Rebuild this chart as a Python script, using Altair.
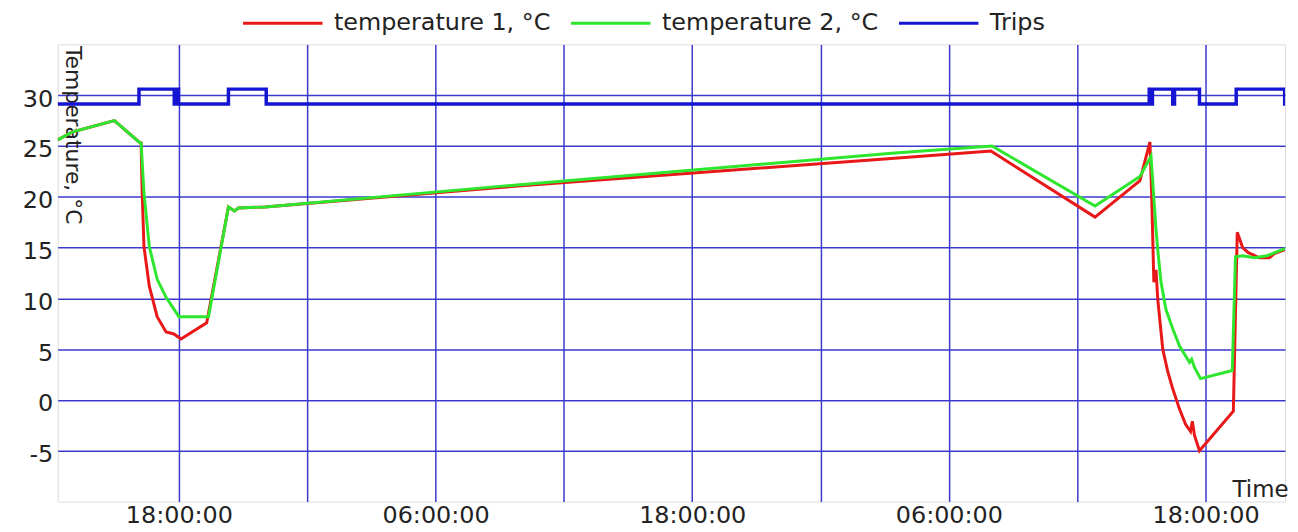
import altair as alt
import pandas as pd

# ---------------- data ----------------
t1_times = [
    "2023-01-01T12:20", "2023-01-01T13:02", "2023-01-01T14:59", "2023-01-01T16:08", "2023-01-01T16:14",
    "2023-01-01T16:17", "2023-01-01T16:22", "2023-01-01T16:37", "2023-01-01T16:59", "2023-01-01T17:24",
    "2023-01-01T17:46", "2023-01-01T18:06", "2023-01-01T19:18", "2023-01-01T20:19", "2023-01-01T20:36",
    "2023-01-01T20:47", "2023-01-01T22:02", "2023-01-02T08:52", "2023-01-03T03:28", "2023-01-03T07:58",
    "2023-01-03T12:50", "2023-01-03T14:56", "2023-01-03T15:24", "2023-01-03T15:29", "2023-01-03T15:35",
    "2023-01-03T15:41", "2023-01-03T15:46", "2023-01-03T16:00", "2023-01-03T16:14", "2023-01-03T16:28",
    "2023-01-03T16:47", "2023-01-03T17:04", "2023-01-03T17:18", "2023-01-03T17:23", "2023-01-03T17:29",
    "2023-01-03T17:43", "2023-01-03T19:18", "2023-01-03T19:29", "2023-01-03T19:44", "2023-01-03T20:00",
    "2023-01-03T20:31", "2023-01-03T20:59", "2023-01-03T21:13", "2023-01-03T21:43",
]
t1_values = [
    25.6, 26.4, 27.5, 25.4, 25.3,
    20.4, 15.1, 11.2, 8.2, 6.7,
    6.5, 6.0, 7.6, 19.0, 18.6,
    18.9, 19.0, 20.9, 23.8, 24.5,
    18.0, 21.6, 25.4, 20.0, 11.6,
    12.8, 9.9, 5.0, 2.8, 1.1,
    -0.9, -2.4, -3.1, -2.1, -3.5,
    -5.0, -1.1, 16.5, 15.0, 14.5,
    14.0, 14.0, 14.4, 14.8,
]

t2_times = [
    "2023-01-01T12:20", "2023-01-01T13:02", "2023-01-01T14:59", "2023-01-01T16:08", "2023-01-01T16:14",
    "2023-01-01T16:22", "2023-01-01T16:37", "2023-01-01T16:59", "2023-01-01T17:24", "2023-01-01T18:00",
    "2023-01-01T19:23", "2023-01-01T20:19", "2023-01-01T20:36", "2023-01-01T20:47", "2023-01-01T22:02",
    "2023-01-02T08:52", "2023-01-03T03:28", "2023-01-03T08:01", "2023-01-03T12:50", "2023-01-03T14:56",
    "2023-01-03T15:27", "2023-01-03T15:41", "2023-01-03T15:46", "2023-01-03T15:55", "2023-01-03T16:09",
    "2023-01-03T16:28", "2023-01-03T16:47", "2023-01-03T17:15", "2023-01-03T17:21", "2023-01-03T17:29",
    "2023-01-03T17:46", "2023-01-03T19:15", "2023-01-03T19:24", "2023-01-03T19:44", "2023-01-03T20:17",
    "2023-01-03T20:53", "2023-01-03T21:21", "2023-01-03T21:43",
]
t2_values = [
    25.6, 26.4, 27.5, 25.4, 25.3,
    20.4, 15.1, 11.9, 10.1, 8.2,
    8.2, 19.0, 18.6, 18.9, 19.0,
    21.0, 24.3, 25.0, 19.1, 22.0,
    24.0, 16.8, 14.8, 11.6, 8.9,
    7.0, 5.3, 3.7, 4.0, 3.2,
    2.1, 2.9, 14.1, 14.2, 14.0,
    14.2, 14.6, 14.9,
]

trip_times = [
    "2023-01-01T12:20", "2023-01-01T16:08", "2023-01-01T17:47", "2023-01-01T17:53", "2023-01-01T17:59",
    "2023-01-01T20:19", "2023-01-01T22:05", "2023-01-03T15:22", "2023-01-03T15:26", "2023-01-03T15:31",
    "2023-01-03T16:28", "2023-01-03T16:33", "2023-01-03T17:43", "2023-01-03T19:26", "2023-01-03T21:42",
    "2023-01-03T21:50",
]
trip_values = [0, 1, 0, 1, 0, 1, 0, 1, 0, 1, 0, 1, 0, 1, 0, 0]

series_names = ["temperature 1, °C", "temperature 2, °C", "Trips"]
series_colors = ["#e81818", "#2ee62e", "#1414d2"]

y_ticks = [-5, 0, 5, 10, 15, 20, 25, 30]
x_ticks = [
    "2023-01-01T18:00", "2023-01-02T00:00", "2023-01-02T06:00", "2023-01-02T12:00",
    "2023-01-02T18:00", "2023-01-03T00:00", "2023-01-03T06:00", "2023-01-03T12:00",
    "2023-01-03T18:00",
]

# ---------------- tables ----------------
temp_df = pd.concat([
    pd.DataFrame({"time": [t + ":00Z" for t in t1_times], "value": t1_values, "series": series_names[0]}),
    pd.DataFrame({"time": [t + ":00Z" for t in t2_times], "value": t2_values, "series": series_names[1]}),
], ignore_index=True)
trip_df = pd.DataFrame({"time": [t + ":00Z" for t in trip_times], "value": trip_values, "series": series_names[2]})


def dt(s):
    d, h = s.split("T")
    y, mo, da = (int(v) for v in d.split("-"))
    hh, mm = (int(v) for v in h.split(":"))
    return alt.DateTime(year=y, month=mo, date=da, hours=hh, minutes=mm, utc=True)


GRID = "#3a3acf"
TXT = "#222222"
FONT = "DejaVu Sans"

x_enc = alt.X(
    "time:T",
    scale=alt.Scale(type="utc", domain=[dt("2023-01-01T12:20"), dt("2023-01-03T21:43")]),
    axis=alt.Axis(
        values=[dt(v) for v in x_ticks],
        labelExpr="utchours(datum.value) % 12 == 6 ? utcFormat(datum.value, '%H:%M:%S') : ''",
        grid=True, gridColor=GRID, gridWidth=1.5,
        ticks=False, domain=False,
        labelFontSize=24, labelColor=TXT, labelFont=FONT, labelPadding=2,
        labelFlush=False, labelOverlap=False,
        title="Time", titleFontSize=23, titleFontWeight="normal", titleColor=TXT, titleFont=FONT,
        titleX=1238, titleY=-5, titleAlign="right", titleBaseline="alphabetic", titleAnchor="end",
    ),
)

color_enc = alt.Color(
    "series:N",
    scale=alt.Scale(domain=series_names, range=series_colors),
    legend=alt.Legend(
        orient="none", legendX=185, legendY=-63, direction="horizontal", title=None,
        symbolType="stroke", symbolSize=6400, symbolStrokeWidth=3,
        labelFontSize=24, labelColor=TXT, labelFont=FONT, labelOffset=10,
        columnPadding=14, labelLimit=400,
    ),
)

temps = alt.Chart(temp_df).mark_line(strokeWidth=3, clip=True).encode(
    x=x_enc,
    y=alt.Y(
        "value:Q",
        scale=alt.Scale(domain=[-10, 35], nice=False, zero=False),
        axis=alt.Axis(
            values=y_ticks, grid=True, gridColor=GRID, gridWidth=1.5,
            ticks=False, domain=False,
            labelExpr="'' + datum.value",
            labelFontSize=24, labelColor=TXT, labelFont=FONT, labelPadding=5, labelOffset=4,
            minExtent=45, maxExtent=45,
            title="Temperature, °C", titleFontSize=22, titleFontWeight="normal", titleColor=TXT,
            titleFont=FONT, titleAngle=90, titleX=8, titleY=1, titleAlign="left",
            titleBaseline="alphabetic",
        ),
    ),
    color=color_enc,
)

trips = alt.Chart(trip_df).mark_line(strokeWidth=3.5, interpolate="step-after", clip=True).encode(
    x=x_enc,
    y=alt.Y("value:Q", scale=alt.Scale(domain=[-26.67, 4], nice=False, zero=False), axis=None),
    color=color_enc,
)

chart = (
    alt.layer(temps, trips)
    .resolve_scale(y="independent")
    .properties(
        width=1235, height=460,
        autosize=alt.AutoSizeParams(type="none"),
        padding={"left": 50, "top": 35, "right": 5, "bottom": 29},
        background="white",
    )
    .configure_view(stroke="#4646d6", strokeWidth=2)
    .configure(font=FONT)
)

chart.save("out.html", embed_options={"renderer": "svg", "actions": False})
